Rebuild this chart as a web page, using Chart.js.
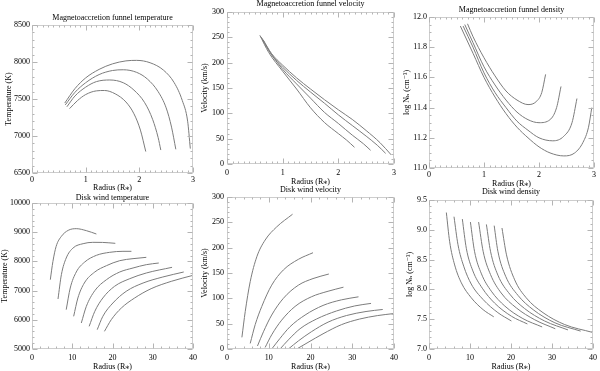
<!DOCTYPE html>
<html><head><meta charset="utf-8">
<script src="https://cdn.jsdelivr.net/npm/chart.js@4"></script>
<style>
html,body{margin:0;padding:0;background:#fff;width:600px;height:371px;overflow:hidden;position:relative}
canvas{position:absolute}
</style></head><body>
<script>
// ---- tick labels ----
const funnelRadiusTicks = [0, 1, 2, 3];
const windRadiusTicks = [0, 10, 20, 30, 40];
const funnelTempTicks = [6500, 7000, 7500, 8000, 8500];
const funnelVelTicks = [0, 50, 100, 150, 200, 250, 300];
const funnelDensTicks = [11.0, 11.2, 11.4, 11.6, 11.8, 12.0];
const windTempTicks = [5000, 6000, 7000, 8000, 9000, 10000];
const windVelTicks = [0, 50, 100, 150, 200, 250, 300];
const windDensTicks = [7.0, 7.5, 8.0, 8.5, 9.0, 9.5];

// ---- titles ----
const panelTitles = ["Magnetoaccretion funnel temperature", "Magnetoaccretion funnel velocity", "Magnetoaccretion funnel density",
                     "Disk wind temperature", "Disk wind velocity", "Disk wind density"];
const radiusLabel = "Radius (R\u204E)";
const yLabels = ["Temperature (K)", "Velocity (km/s)", "log N\u2095 (cm\u207B\u00B3)", "Temperature (K)", "Velocity (km/s)", "log N\u2095 (cm\u207B\u00B3)"];

// ---- series: [radius, value] ----
const funnelTemp1 = [[0.61,7445],[0.8,7640],[1.0,7785],[1.25,7900],[1.5,7975],[1.75,8015],[1.95,8022],[2.2,7990],[2.45,7890],[2.65,7720],[2.8,7480],[2.9,7200],[2.95,6830]];
const funnelTemp2 = [[0.62,7420],[0.8,7590],[1.0,7720],[1.25,7830],[1.5,7885],[1.7,7895],[1.95,7860],[2.15,7770],[2.35,7600],[2.5,7380],[2.6,7120],[2.68,6820]];
const funnelTemp3 = [[0.65,7395],[0.8,7540],[1.0,7660],[1.2,7735],[1.45,7757],[1.7,7720],[1.9,7620],[2.1,7450],[2.25,7220],[2.35,6980],[2.40,6810]];
const funnelTemp4 = [[0.70,7370],[0.85,7480],[1.0,7560],[1.2,7610],[1.35,7615],[1.55,7570],[1.75,7460],[1.9,7300],[2.02,7080],[2.12,6790]];

const funnelVel1 = [[0.59,254],[0.75,220],[1.0,183],[1.25,148],[1.5,111],[1.75,82],[2.0,60],[2.15,47],[2.29,33]];
const funnelVel2 = [[0.61,251],[0.75,224],[1.0,187],[1.25,158],[1.5,130],[1.75,102],[2.0,80],[2.25,57],[2.45,40],[2.58,27]];
const funnelVel3 = [[0.63,248],[0.8,216],[1.0,191],[1.25,165],[1.5,142],[1.75,120],[2.0,97],[2.25,76],[2.5,55],[2.7,37],[2.85,21]];
const funnelVel4 = [[0.65,245],[0.8,218],[1.0,195],[1.25,170],[1.5,148],[1.75,127],[2.0,107],[2.25,88],[2.5,66],[2.75,42],[2.95,18]];

const funnelDens1 = [[0.70,11.955],[0.8,11.87],[1.0,11.73],[1.2,11.61],[1.4,11.51],[1.6,11.45],[1.8,11.42],[1.95,11.44],[2.05,11.50],[2.12,11.62]];
const funnelDens2 = [[0.65,11.95],[0.8,11.83],[1.0,11.67],[1.2,11.55],[1.4,11.45],[1.6,11.37],[1.8,11.32],[2.0,11.30],[2.2,11.32],[2.32,11.40],[2.40,11.54]];
const funnelDens3 = [[0.62,11.94],[0.8,11.80],[1.0,11.63],[1.2,11.50],[1.4,11.40],[1.6,11.31],[1.8,11.25],[2.0,11.20],[2.25,11.18],[2.45,11.21],[2.6,11.30],[2.69,11.46]];
const funnelDens4 = [[0.57,11.94],[0.8,11.76],[1.0,11.60],[1.2,11.47],[1.4,11.36],[1.6,11.27],[1.8,11.20],[2.0,11.14],[2.2,11.10],[2.45,11.08],[2.65,11.10],[2.8,11.17],[2.9,11.27],[2.96,11.40]];

const windTemp1 = [[4.55,7374],[5.2,8000],[6.0,8516],[7.3,8858],[9.0,9064],[11.0,9121],[13.5,9053],[16.0,8938]];
const windTemp2 = [[6.46,6712],[7.3,7546],[8.5,8116],[10.2,8459],[12.7,8607],[15.1,8653],[17.5,8650],[20.7,8619]];
const windTemp3 = [[8.5,6347],[9.5,7089],[11.0,7637],[13.1,7979],[16.0,8208],[19.3,8311],[22.6,8345],[24.7,8345]];
const windTemp4 = [[10.35,6119],[11.4,6747],[13.0,7260],[15.6,7637],[18.5,7854],[21.8,8025],[25.1,8094],[28.4,8139]];
const windTemp5 = [[12.25,5890],[13.5,6461],[15.6,6998],[18.5,7374],[21.8,7637],[25.1,7774],[28.4,7888],[31.5,7945]];
const windTemp6 = [[14.2,5776],[15.6,6290],[17.6,6747],[20.5,7146],[24.3,7409],[28.4,7603],[34.8,7797]];
const windTemp7 = [[16.2,5662],[17.6,6119],[20.1,6575],[23.4,6975],[27.6,7260],[32.5,7466],[37.7,7637]];
const windTemp8 = [[18.0,5605],[19.7,6005],[22.2,6404],[25.5,6747],[29.6,7066],[34.6,7317],[40.0,7523]];

const windVel1 = [[3.57,23],[4.37,74],[5.56,133],[7.14,182],[9.13,215],[11.9,241],[15.7,266]];
const windVel2 = [[5.56,11],[6.75,48],[8.33,84],[10.7,126],[13.5,156],[17.1,177],[20.6,190]];
const windVel3 = [[7.3,6],[8.73,34],[10.7,67],[13.5,100],[17.1,126],[20.6,139],[24.4,148]];
const windVel4 = [[9.13,3],[10.7,28],[13.1,57],[16.3,84],[20.2,103],[24.2,114],[27.9,122]];
const windVel5 = [[10.9,2],[12.7,21],[15.1,44],[18.7,67],[23.0,86],[27.4,97],[31.5,103]];
const windVel6 = [[12.7,0],[14.7,18],[17.5,40],[21.4,59],[26.2,75],[30.6,85],[34.5,90]];
const windVel7 = [[14.7,0],[17.1,16],[20.2,34],[24.2,53],[28.6,66],[33.3,74],[37.3,78]];
const windVel8 = [[16.7,0],[19.4,13],[23.0,30],[27.4,48],[31.7,59],[36.1,66],[40.0,70]];

const windDens1 = [[4.23,9.29],[5.04,8.80],[6.26,8.41],[7.89,8.11],[10.3,7.86],[13.2,7.66],[15.8,7.54]];
const windDens2 = [[6.1,9.22],[7.07,8.75],[8.46,8.39],[10.3,8.09],[13.2,7.83],[16.8,7.61],[20.1,7.47]];
const windDens3 = [[8.13,9.18],[9.1,8.69],[10.7,8.31],[13.0,8.02],[16.0,7.77],[20.1,7.55],[24.0,7.42]];
const windDens4 = [[10.1,9.13],[11.1,8.64],[12.8,8.26],[15.2,7.97],[18.5,7.72],[22.9,7.51],[27.6,7.37]];
const windDens5 = [[12.1,9.13],[13.2,8.64],[15.0,8.25],[17.6,7.94],[21.3,7.69],[25.8,7.49],[30.8,7.34]];
const windDens6 = [[14.0,9.09],[15.0,8.64],[16.8,8.24],[19.7,7.92],[23.3,7.68],[28.2,7.47],[33.9,7.32]];
const windDens7 = [[15.9,9.07],[16.8,8.64],[18.7,8.22],[21.7,7.90],[25.4,7.66],[30.7,7.44],[37.0,7.30]];
const windDens8 = [[17.8,9.03],[18.9,8.58],[20.9,8.16],[23.7,7.86],[27.8,7.61],[33.1,7.41],[39.8,7.28]];

// ---- layout / style ----
const FONT = "'Liberation Serif','DejaVu Serif','Times New Roman',serif";
const LINE = '#7c7c7c';

const framePlugin = {
  id: 'frame',
  afterDatasetsDraw(chart, args, o) {
    const {ctx, chartArea: a, scales: {x, y}} = chart;
    const L = Math.round(a.left) + 0.5, R = Math.round(a.right) - 0.5;
    const T = Math.round(a.top) + 0.5, B = Math.round(a.bottom) - 0.5;
    ctx.save();
    ctx.strokeStyle = '#cdcdcd';
    ctx.lineWidth = 1;
    ctx.strokeRect(L, T, R - L, B - T);
    const minors = (vals, n) => {
      const out = [];
      for (let i = 0; i < vals.length - 1; i++)
        for (let k = 1; k < n; k++) out.push(vals[i] + (vals[i + 1] - vals[i]) * k / n);
      return out;
    };
    ctx.strokeStyle = '#b4b4b4';
    ctx.beginPath();
    const xt = o.xTicks, yt = o.yTicks;
    const seg = (x1, y1, x2, y2) => { ctx.moveTo(x1, y1); ctx.lineTo(x2, y2); };
    xt.forEach(v => { const px = Math.round(x.getPixelForValue(v)) + 0.5; seg(px, B, px, B - 5); seg(px, T, px, T + 5); });
    minors(xt, o.xMinor).forEach(v => { const px = Math.round(x.getPixelForValue(v)) + 0.5; seg(px, B, px, B - 2); seg(px, T, px, T + 2); });
    yt.forEach(v => { const py = Math.round(y.getPixelForValue(v)) + 0.5; seg(L, py, L + 5, py); seg(R, py, R - 5, py); });
    minors(yt, o.yMinor).forEach(v => { const py = Math.round(y.getPixelForValue(v)) + 0.5; seg(L, py, L + 2, py); seg(R, py, R - 2, py); });
    ctx.stroke();
    ctx.restore();
  }
};

const panels = [
  {L:32,R:193,T:25,B:173, tCy:18, xlp:2, ylp:2, xtCy:188, ytCx:9,  title:panelTitles[0], yTitle:yLabels[0], xTicks:funnelRadiusTicks, yTicks:funnelTempTicks, dec:0, xMinor:10, yMinor:5,
   series:[funnelTemp1,funnelTemp2,funnelTemp3,funnelTemp4]},
  {L:227,R:394,T:12,B:164, tCy:4, xlp:4, ylp:3, xtCy:182, ytCx:205, title:panelTitles[1], yTitle:yLabels[1], xTicks:funnelRadiusTicks, yTicks:funnelVelTicks, dec:0, xMinor:10, yMinor:5,
   series:[funnelVel1,funnelVel2,funnelVel3,funnelVel4]},
  {L:429,R:594,T:17,B:168, tCy:10, xlp:2, ylp:2, xtCy:184, ytCx:407, title:panelTitles[2], yTitle:yLabels[2], xTicks:funnelRadiusTicks, yTicks:funnelDensTicks, dec:1, xMinor:10, yMinor:4,
   series:[funnelDens1,funnelDens2,funnelDens3,funnelDens4]},
  {L:32,R:193,T:203,B:349, tCy:198, xlp:4, ylp:2, xtCy:367, ytCx:5, title:panelTitles[3], yTitle:yLabels[3], xTicks:windRadiusTicks, yTicks:windTempTicks, dec:0, xMinor:5, yMinor:5,
   series:[windTemp1,windTemp2,windTemp3,windTemp4,windTemp5,windTemp6,windTemp7,windTemp8]},
  {L:227,R:394,T:197,B:349, tCy:190, xlp:4, ylp:3, xtCy:367, ytCx:205, title:panelTitles[4], yTitle:yLabels[4], xTicks:windRadiusTicks, yTicks:windVelTicks, dec:0, xMinor:5, yMinor:5,
   series:[windVel1,windVel2,windVel3,windVel4,windVel5,windVel6,windVel7,windVel8]},
  {L:429,R:593,T:200,B:349, tCy:192, xlp:4, ylp:2, xtCy:367, ytCx:410, title:panelTitles[5], yTitle:yLabels[5], xTicks:windRadiusTicks, yTicks:windDensTicks, dec:1, xMinor:5, yMinor:5,
   series:[windDens1,windDens2,windDens3,windDens4,windDens5,windDens6,windDens7,windDens8]},
];

const YW = 40, TOPH = 30, XH = 25, RP = 8, LH = 10;
const font = {family: FONT, size: 8, weight: 'normal', lineHeight: 1.25};

panels.forEach(p => {
  const W = p.R - p.L + YW + RP, H = p.B - p.T + TOPH + XH;
  const left = p.L - YW, top = p.T - TOPH;
  const cv = document.createElement('canvas');
  cv.width = W; cv.height = H;
  cv.style.cssText = `left:${left}px;top:${top}px;width:${W}px;height:${H}px`;
  document.body.appendChild(cv);
  const tPadTop = p.tCy - LH / 2 - top;
  const xTitlePadB = (top + H) - LH / 2 - p.xtCy;
  const yTitlePadT = p.ytCx - left - LH / 2;
  new Chart(cv, {
    type: 'line',
    data: {
      datasets: p.series.map(s => ({
        data: s.map(([x, y]) => ({x, y})),
        borderColor: LINE, borderWidth: 1, pointRadius: 0, fill: false,
        cubicInterpolationMode: 'monotone'
      }))
    },
    options: {
      responsive: false, animation: false, devicePixelRatio: 1,
      layout: {padding: {left: 0, right: RP, top: 0, bottom: 0}},
      plugins: {
        legend: {display: false}, tooltip: {enabled: false},
        title: {display: true, text: p.title, fullSize: false, color: '#000', font,
                padding: {top: tPadTop, bottom: TOPH - LH - tPadTop}},
        frame: {xTicks: p.xTicks, yTicks: p.yTicks, xMinor: p.xMinor, yMinor: p.yMinor}
      },
      scales: {
        x: {
          type: 'linear', min: p.xTicks[0], max: p.xTicks[p.xTicks.length - 1],
          afterBuildTicks: s => { s.ticks = p.xTicks.map(v => ({value: v})); },
          afterFit: s => { s.height = XH; },
          grid: {display: false, drawTicks: false}, border: {display: false},
          ticks: {padding: p.xlp, color: '#000', font, maxRotation: 0, autoSkip: false, callback: v => String(v)},
          title: {display: true, text: radiusLabel, color: '#000', font, padding: {top: 0, bottom: xTitlePadB}}
        },
        y: {
          type: 'linear', min: p.yTicks[0], max: p.yTicks[p.yTicks.length - 1],
          afterBuildTicks: s => { s.ticks = p.yTicks.map(v => ({value: v})); },
          afterFit: s => { s.width = YW; },
          grid: {display: false, drawTicks: false}, border: {display: false},
          ticks: {padding: p.ylp, color: '#000', font, autoSkip: false, callback: v => Number(v).toFixed(p.dec)},
          title: {display: true, text: p.yTitle, color: '#000', font, padding: {top: yTitlePadT, bottom: 0}}
        }
      }
    },
    plugins: [framePlugin]
  });
});
</script>
</body></html>
